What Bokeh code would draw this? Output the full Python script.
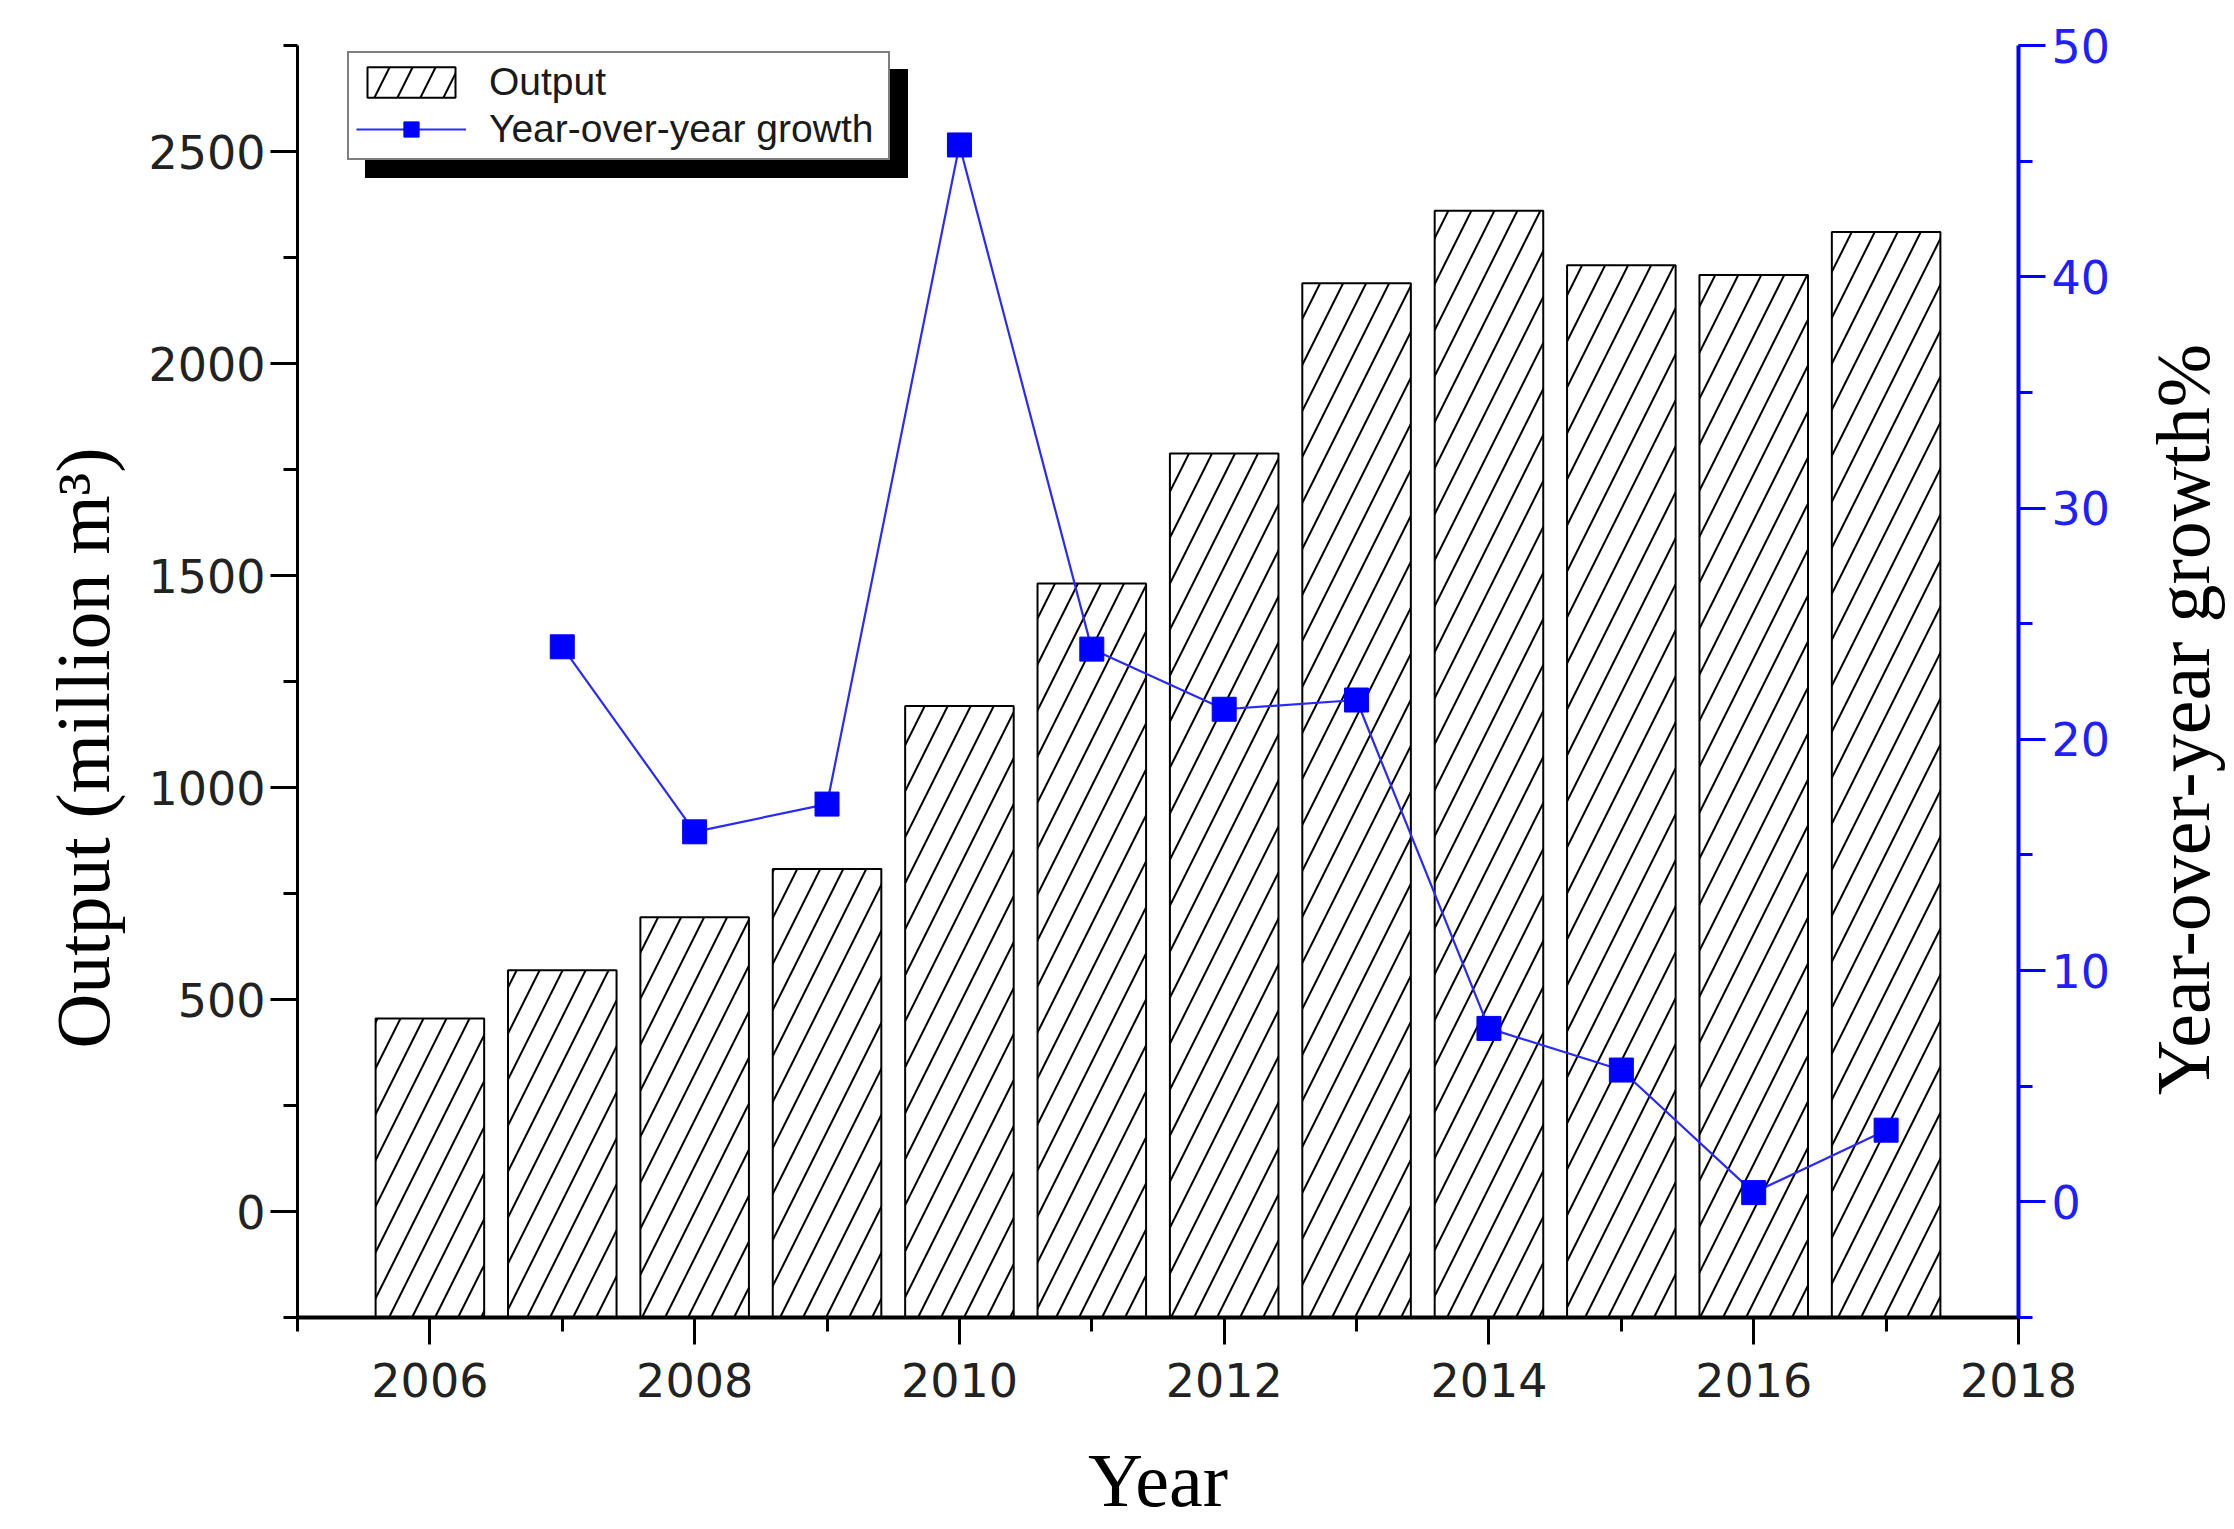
from bokeh.plotting import figure
from bokeh.layouts import row
from bokeh.models import (Range1d, LinearAxis, SingleIntervalTicker, FixedTicker,
                          Legend, LegendItem)
from bokeh.embed import file_html
from bokeh.resources import INLINE

# ---------------- data ----------------
years = [2006, 2007, 2008, 2009, 2010, 2011, 2012, 2013, 2014, 2015, 2016, 2017]
output = [455, 569, 694, 808, 1192, 1481, 1788, 2189, 2360, 2232, 2209, 2310]
growth_years = [2007, 2008, 2009, 2010, 2011, 2012, 2013, 2014, 2015, 2016, 2017]
growth = [24.0, 16.0, 17.2, 45.7, 23.9, 21.3, 21.7, 7.5, 5.7, 0.4, 3.1]

x_min, x_max = 2005, 2018
left_min, left_max = -250, 2750
right_min, right_max = -5, 50

NB = "\u00a0"
left_title = "Output (million m³)" + NB * 7
right_title = "Year-over-year growth%" + NB * 4

TICK_FONT = "DejaVu Sans"
LEG_FONT = "Liberation Sans"
TITLE_FONT = "Liberation Serif"

p = figure(frame_width=1721, frame_height=1272,
           x_range=Range1d(x_min, x_max), y_range=Range1d(left_min, left_max),
           output_backend="svg", toolbar_location=None,
           min_border_left=297, min_border_right=0,
           min_border_top=45, min_border_bottom=195)
p.outline_line_color = None
p.xgrid.visible = False
p.ygrid.visible = False
p.background_fill_color = "white"
p.border_fill_color = "white"

# ---------------- bars ----------------
r_bar = p.vbar(x=years, top=output, bottom=left_min, width=0.82,
               fill_color="white", line_color="black", line_width=2,
               hatch_pattern="/", hatch_color="black", hatch_weight=2,
               hatch_scale=46)

# ---------------- growth line ----------------
p.extra_y_ranges = {"g": Range1d(right_min, right_max)}
r_line = p.line(growth_years, growth, y_range_name="g",
                line_color="#2a2aff", line_width=2.2)
r_sq = p.scatter(growth_years, growth, y_range_name="g", marker="square",
                 size=24, fill_color="#0000ff", line_color="#0000ff")

# ---------------- axes ----------------
xa = p.xaxis[0]
xa.ticker = SingleIntervalTicker(interval=2, num_minor_ticks=2)
xa.axis_label = "Year"
ya = p.yaxis[0]
ya.ticker = SingleIntervalTicker(interval=500, num_minor_ticks=2)
ya.axis_label = left_title

ra = LinearAxis(y_range_name="g",
                ticker=SingleIntervalTicker(interval=10, num_minor_ticks=2))
p.add_layout(ra, "right")

for ax, col in ((xa, "black"), (ya, "black"), (ra, "#0000ff")):
    ax.axis_line_color = col
    ax.axis_line_width = 4
    ax.major_tick_line_color = col
    ax.minor_tick_line_color = col
    ax.major_tick_line_width = 3
    ax.minor_tick_line_width = 3
    ax.major_tick_in = 0
    ax.minor_tick_in = 0
    ax.major_tick_out = 27
    ax.minor_tick_out = 14
    ax.major_label_text_font = TICK_FONT
    ax.major_label_text_font_size = "46px"
    ax.major_label_text_color = "#222222"
    ax.axis_label_text_font = TITLE_FONT
    ax.axis_label_text_font_size = "76px"
    ax.axis_label_text_font_style = "normal"
    ax.axis_label_text_color = "black"

ra.major_label_text_color = "#2020ff"
ya.axis_line_width = 3
xa.major_label_standoff = 18
xa.axis_label_standoff = 38
ya.major_label_standoff = 5
ya.axis_label_standoff = 20
ra.major_label_standoff = 6

# ---------------- legend (with drop shadow) ----------------
dummy = p.scatter(x=[], y=[], alpha=0)
leg_kw = dict(glyph_width=110, glyph_height=38, padding=7, spacing=3,
              label_standoff=23, label_text_font=LEG_FONT,
              label_text_font_size="39px", label_width=392,
              border_line_width=2, border_line_color="black", margin=0)
loc_x, loc_y = 50, 1157
shadow = Legend(items=[LegendItem(label=NB, renderers=[dummy]),
                       LegendItem(label=NB, renderers=[dummy])],
                location=(loc_x + 18, loc_y - 18),
                background_fill_color="black", background_fill_alpha=1.0,
                label_text_color="black", **leg_kw)
main = Legend(items=[LegendItem(label="Output", renderers=[r_bar]),
                     LegendItem(label="Year-over-year growth", renderers=[r_line, r_sq])],
              location=(loc_x, loc_y),
              background_fill_color="white", background_fill_alpha=1.0,
              label_text_color="#1a1a1a", **leg_kw)
p.add_layout(shadow, "center")
p.add_layout(main, "center")

# ---------------- right-hand title (bottom-to-top, like the left one) ----------------
q = figure(frame_width=1, frame_height=1272,
           x_range=Range1d(0, 1), y_range=Range1d(0, 1),
           output_backend="svg", toolbar_location=None,
           min_border_left=111, min_border_right=0,
           min_border_top=45, min_border_bottom=0)
q.outline_line_color = None
q.grid.visible = False
q.xaxis.visible = False
q.background_fill_color = "white"
q.border_fill_color = "white"
qa = q.yaxis[0]
qa.ticker = FixedTicker(ticks=[])
qa.axis_line_color = None
qa.major_tick_out = 0
qa.minor_tick_out = 0
qa.major_tick_in = 0
qa.minor_tick_in = 0
qa.major_label_standoff = 0
qa.axis_label = right_title
qa.axis_label_standoff = 0
qa.axis_label_text_font = TITLE_FONT
qa.axis_label_text_font_size = "76px"
qa.axis_label_text_font_style = "normal"
qa.axis_label_text_color = "black"

layout = row(p, q, spacing=0)

open("out.html", "w").write(file_html(layout, INLINE))
